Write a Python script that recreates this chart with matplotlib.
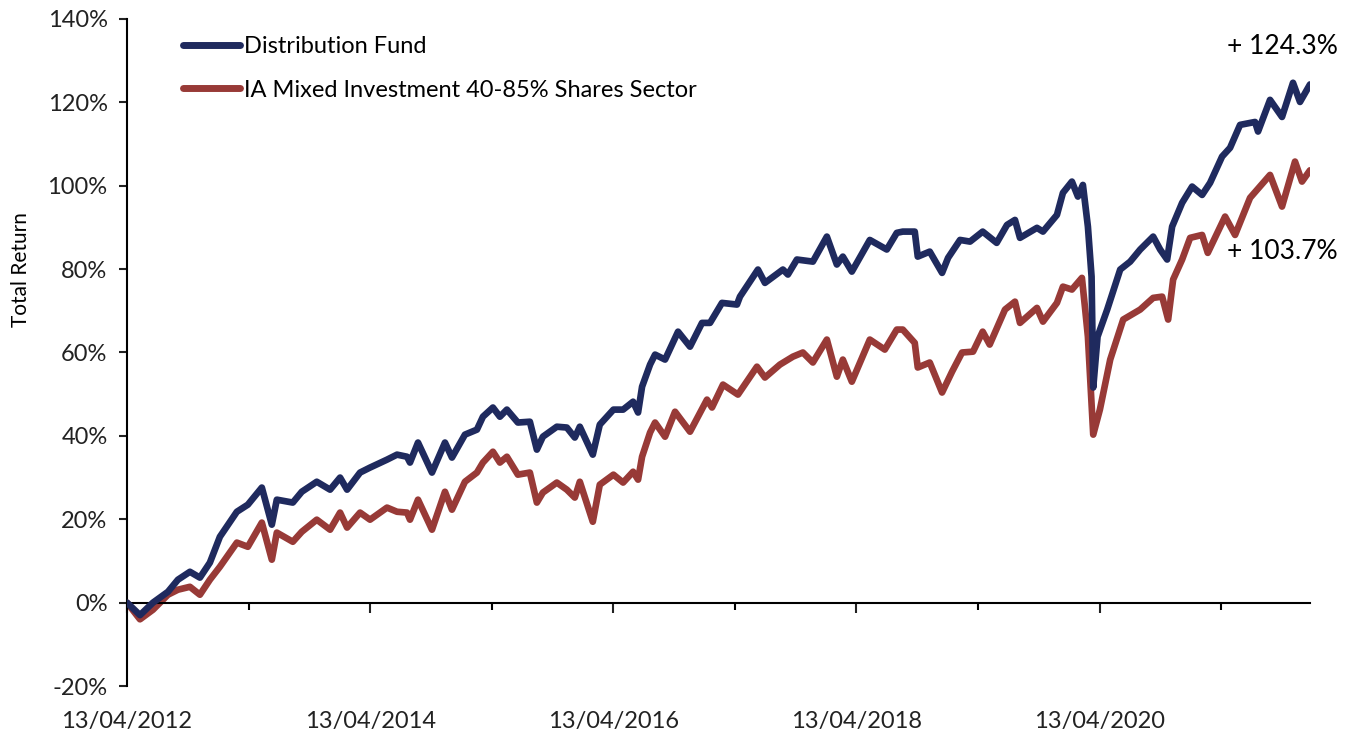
import pandas as pd
import matplotlib.pyplot as plt
from matplotlib.ticker import FuncFormatter

# =============================
# DATA (% total return)
# =============================
fund_dates = [
    "2012-04-13", "2012-05-22", "2012-06-30", "2012-08-14", "2012-09-13", "2012-10-19",
    "2012-11-18", "2012-12-18", "2013-01-17", "2013-03-09", "2013-04-11", "2013-05-23",
    "2013-06-22", "2013-07-07", "2013-08-24", "2013-09-20", "2013-11-04", "2013-12-14",
    "2014-01-13", "2014-02-03", "2014-03-14", "2014-04-13", "2014-06-03", "2014-07-03",
    "2014-08-02", "2014-08-11", "2014-09-04", "2014-10-16", "2014-11-24", "2014-12-15",
    "2015-01-23", "2015-02-28", "2015-03-18", "2015-04-17", "2015-05-08", "2015-05-29",
    "2015-07-01", "2015-08-06", "2015-08-27", "2015-09-14", "2015-10-26", "2015-11-25",
    "2015-12-19", "2016-01-03", "2016-02-11", "2016-03-03", "2016-04-13", "2016-05-12",
    "2016-06-11", "2016-06-26", "2016-07-08", "2016-08-01", "2016-08-16", "2016-09-15",
    "2016-10-24", "2016-11-29", "2017-01-04", "2017-01-28", "2017-03-05", "2017-04-19",
    "2017-04-28", "2017-06-21", "2017-07-12", "2017-09-04", "2017-09-19", "2017-10-16",
    "2017-12-03", "2018-01-14", "2018-02-13", "2018-03-03", "2018-03-30", "2018-05-23",
    "2018-07-13", "2018-08-12", "2018-08-30", "2018-10-05", "2018-10-14", "2018-11-19",
    "2018-12-26", "2019-01-13", "2019-02-18", "2019-03-20", "2019-04-27", "2019-06-08",
    "2019-07-09", "2019-08-02", "2019-08-17", "2019-10-07", "2019-10-25", "2019-12-06",
    "2019-12-24", "2020-01-20", "2020-02-07", "2020-02-22", "2020-03-08", "2020-03-19",
    "2020-03-24", "2020-04-06", "2020-05-05", "2020-06-13", "2020-07-13", "2020-08-12",
    "2020-09-20", "2020-10-11", "2020-11-01", "2020-11-16", "2020-12-16", "2021-01-15",
    "2021-02-14", "2021-03-10", "2021-04-15", "2021-05-09", "2021-06-08", "2021-07-23",
    "2021-08-01", "2021-09-06", "2021-10-12", "2021-11-14", "2021-12-05", "2022-01-04",
]
fund_vals = [
    0.0, -3.0, 0.0, 2.6, 5.5, 7.4,
    6.0, 9.6, 15.8, 21.8, 23.5, 27.6,
    18.7, 24.7, 24.0, 26.6, 29.0, 27.1,
    30.0, 27.1, 31.2, 32.4, 34.3, 35.5,
    35.0, 33.6, 38.4, 31.2, 38.4, 34.8,
    40.3, 41.5, 44.6, 46.8, 44.6, 46.3,
    43.2, 43.4, 36.7, 39.8, 42.2, 42.0,
    39.6, 42.2, 35.5, 42.7, 46.3, 46.3,
    48.2, 45.6, 51.8, 57.1, 59.5, 58.3,
    65.0, 61.4, 67.1, 67.1, 71.9, 71.5,
    73.4, 79.9, 76.7, 79.9, 78.7, 82.3,
    81.8, 87.8, 81.1, 83.0, 79.4, 87.0,
    84.7, 88.7, 89.0, 89.0, 83.0, 84.2,
    79.1, 82.7, 87.0, 86.6, 89.0, 86.3,
    90.6, 91.8, 87.5, 89.9, 89.0, 93.0,
    98.3, 101.0, 97.4, 100.2, 90.2, 78.2,
    51.6, 63.8, 70.3, 79.9, 81.8, 84.7,
    87.8, 84.7, 82.3, 90.2, 95.9, 99.8,
    97.8, 100.7, 107.0, 109.1, 114.6, 115.3,
    113.0, 120.6, 116.5, 124.7, 120.1, 124.3,
]

sector_dates = [
    "2012-04-13", "2012-05-22", "2012-06-30", "2012-08-14", "2012-09-13", "2012-10-19",
    "2012-11-18", "2012-12-18", "2013-01-17", "2013-03-09", "2013-04-11", "2013-05-23",
    "2013-06-22", "2013-07-07", "2013-08-24", "2013-09-20", "2013-11-04", "2013-12-14",
    "2014-01-13", "2014-02-03", "2014-03-14", "2014-04-13", "2014-06-03", "2014-07-03",
    "2014-08-02", "2014-08-11", "2014-09-04", "2014-10-16", "2014-11-24", "2014-12-15",
    "2015-01-23", "2015-02-28", "2015-03-18", "2015-04-17", "2015-05-08", "2015-05-29",
    "2015-07-01", "2015-08-06", "2015-08-27", "2015-09-14", "2015-10-26", "2015-11-25",
    "2015-12-19", "2016-01-03", "2016-02-11", "2016-03-03", "2016-04-13", "2016-05-12",
    "2016-06-11", "2016-06-26", "2016-07-08", "2016-08-01", "2016-08-16", "2016-09-15",
    "2016-10-15", "2016-11-29", "2017-01-19", "2017-02-03", "2017-03-08", "2017-04-22",
    "2017-06-18", "2017-07-12", "2017-08-26", "2017-10-04", "2017-11-03", "2017-12-03",
    "2018-01-14", "2018-02-13", "2018-03-03", "2018-03-30", "2018-05-23", "2018-07-07",
    "2018-08-12", "2018-08-30", "2018-10-05", "2018-10-14", "2018-11-19", "2018-12-26",
    "2019-01-25", "2019-02-24", "2019-03-29", "2019-04-27", "2019-05-18", "2019-07-03",
    "2019-08-02", "2019-08-17", "2019-10-07", "2019-10-25", "2019-12-06", "2019-12-24",
    "2020-01-20", "2020-02-19", "2020-02-28", "2020-03-08", "2020-03-24", "2020-04-13",
    "2020-05-14", "2020-06-22", "2020-08-12", "2020-09-20", "2020-10-17", "2020-11-04",
    "2020-11-19", "2020-12-16", "2021-01-09", "2021-02-14", "2021-03-03", "2021-04-24",
    "2021-05-24", "2021-07-08", "2021-09-06", "2021-10-12", "2021-11-20", "2021-12-11",
    "2022-01-04",
]
sector_vals = [
    0.0, -4.0, -1.7, 1.9, 3.1, 3.8,
    1.9, 5.5, 8.6, 14.4, 13.4, 19.2,
    10.3, 16.8, 14.6, 17.0, 19.9, 17.5,
    21.6, 18.0, 21.6, 19.9, 22.8, 21.8,
    21.6, 19.9, 24.7, 17.5, 26.6, 22.3,
    29.0, 31.2, 33.6, 36.2, 33.6, 35.0,
    30.7, 31.2, 24.0, 26.4, 28.8, 27.1,
    25.2, 29.0, 19.4, 28.3, 30.7, 28.8,
    31.4, 29.5, 35.0, 40.8, 43.2, 39.8,
    45.8, 41.0, 48.7, 46.8, 52.3, 49.9,
    56.6, 54.0, 57.1, 59.0, 60.0, 57.6,
    63.1, 54.2, 58.3, 53.0, 63.1, 60.7,
    65.5, 65.5, 62.3, 56.4, 57.6, 50.4,
    55.4, 60.0, 60.2, 65.0, 61.9, 70.3,
    72.2, 67.1, 70.7, 67.4, 71.9, 75.8,
    75.1, 77.9, 71.0, 63.8, 40.3, 46.3,
    58.3, 67.9, 70.3, 73.1, 73.4, 67.9,
    77.5, 82.3, 87.5, 88.2, 83.9, 92.6,
    88.2, 97.1, 102.6, 95.0, 105.8, 101.0,
    103.7,
]

series_labels = ["Distribution Fund", "IA Mixed Investment 40-85% Shares Sector"]
end_labels = ["+ 124.3%", "+ 103.7%"]
label_years = [2012, 2014, 2016, 2018, 2020]
minor_years = [2013, 2015, 2017, 2019, 2021]

BLUE = "#1f2a5e"
RED = "#983a37"
FONT = ["Lato", "DejaVu Sans"]

plt.rcParams["font.family"] = FONT

fund_dates = pd.to_datetime(fund_dates)
sector_dates = pd.to_datetime(sector_dates)

fig = plt.figure(figsize=(13.64, 7.33), dpi=100)
ax = fig.add_axes([0.0931, 0.0641, 0.8673, 0.91])

ax.plot(fund_dates, fund_vals, color=BLUE, lw=4.8, solid_joinstyle="round",
        solid_capstyle="round", label=series_labels[0], zorder=3)
ax.plot(sector_dates, sector_vals, color=RED, lw=4.8, solid_joinstyle="round",
        solid_capstyle="round", label=series_labels[1], zorder=2)

ax.set_xlim(pd.Timestamp("2012-04-13"), pd.Timestamp("2022-01-04"))
ax.set_ylim(-20, 140)

# y axis
ax.set_yticks(range(-20, 141, 20))
ax.yaxis.set_major_formatter(FuncFormatter(lambda v, p: f"{v:.0f}%"))
ax.tick_params(axis="y", direction="out", length=6, width=1.5, labelsize=17,
               pad=8, colors="#222222")
ax.set_ylabel("Total Return", fontsize=15)
ax.yaxis.set_label_coords(-0.081, 0.624)

# x axis sits on the 0% line, labels stay at the bottom
for s in ["top", "right"]:
    ax.spines[s].set_visible(False)
ax.spines["bottom"].set_position(("data", 0))
ax.spines["left"].set_linewidth(1.5)
ax.spines["bottom"].set_linewidth(1.5)

ax.set_xticks([pd.Timestamp(f"{y}-04-13") for y in label_years])
ax.set_xticklabels([f"13/04/{y}" for y in label_years])
ax.set_xticks([pd.Timestamp(f"{y}-04-13") for y in minor_years], minor=True)
ax.tick_params(axis="x", which="major", direction="out", length=7, width=1.5,
               labelsize=17, pad=71, colors="#222222")
ax.tick_params(axis="x", which="minor", direction="out", length=5, width=1.5)

leg = ax.legend(loc="upper left", bbox_to_anchor=(0.0473, 0.9745), frameon=False,
                fontsize=17, handlelength=2.4, handletextpad=0.2,
                borderpad=0, borderaxespad=0, labelspacing=0.96)
for line in leg.get_lines():
    line.set_linewidth(5)

ax.text(pd.Timestamp("2021-04-30"), 133.3, end_labels[0], fontsize=19,
        va="center", ha="left", color="black")
ax.text(pd.Timestamp("2021-04-30"), 84.2, end_labels[1], fontsize=19,
        va="center", ha="left", color="black")

fig.savefig("out.png", dpi=100)
